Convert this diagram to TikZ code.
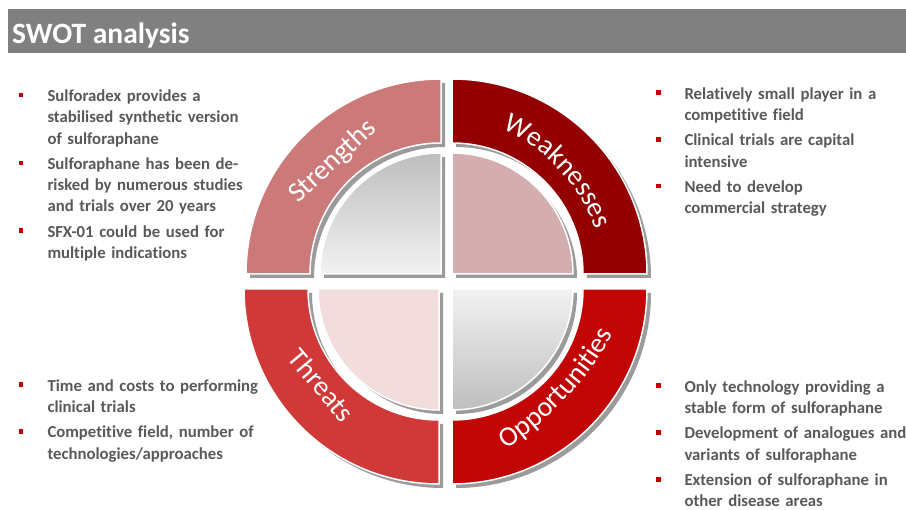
\documentclass[tikz,border=0pt]{standalone}
\usepackage{fontspec}
\setmainfont{Carlito}[Ligatures=NoCommon]
\usetikzlibrary{decorations.text}

\definecolor{titlegray}{RGB}{128,128,128}
\definecolor{bodygray}{RGB}{89,89,89}
\definecolor{bulletred}{RGB}{192,0,0}
\definecolor{shadowgray}{RGB}{155,155,155}
\definecolor{strengthband}{RGB}{204,121,121}
\definecolor{weakband}{RGB}{148,0,0}
\definecolor{threatband}{RGB}{209,56,56}
\definecolor{opportband}{RGB}{194,6,6}
\definecolor{weakdisk}{RGB}{212,174,174}
\definecolor{threatdisk}{RGB}{242,221,220}
\definecolor{diskdark}{RGB}{190,190,190}
\definecolor{disklight}{RGB}{242,242,242}

\newcommand\bodyfont{\fontsize{16.75}{21.3}\selectfont\bfseries}
\newcommand\labelfont{\fontsize{28}{28}\selectfont}
\newcommand\titlefont{\fontsize{29.5}{29.5}\selectfont\bfseries}

% One quarter of the wheel: a ring sector and an inner quarter disc,
% each with a grey drop shadow.
% #1 corner, #2 start angle, #3 ring colour, #4 disc fill options
\newcommand\swotquarter[4]{%
  \begin{scope}[shift={#1}]
    \fill[shadowgray, shift={(4,-4)}]
      (#2:195) arc[start angle=#2, delta angle=90, radius=195]
      -- ({#2+90}:131) arc[start angle={#2+90}, delta angle=-90, radius=131] -- cycle;
    \path[fill=#3, draw=white, line width=1.5]
      (#2:195) arc[start angle=#2, delta angle=90, radius=195]
      -- ({#2+90}:131) arc[start angle={#2+90}, delta angle=-90, radius=131] -- cycle;
    \fill[shadowgray, shift={(4,-4)}]
      (0,0) -- (#2:121) arc[start angle=#2, delta angle=90, radius=121] -- cycle;
    \path[#4, draw=white, line width=1.5]
      (0,0) -- (#2:121) arc[start angle=#2, delta angle=90, radius=121] -- cycle;
  \end{scope}}

\begin{document}
\begin{tikzpicture}[x=1pt, y=1pt,
  bulletsq/.style={fill=bulletred, minimum size=4.7pt, inner sep=0pt, outer sep=0pt},
  itemtext/.style={anchor=base west, inner sep=0pt, text width=250pt, align=left,
                   font=\bodyfont, text=bodygray},
  quadlabel/.style={font=\labelfont, text=white, inner sep=0pt},
  arclabel/.style={decorate, decoration={text along path, text align=center,
                   text color=white, text={|\labelfont|#1}}}]

\useasboundingbox (0,0) rectangle (906,-510);
\fill[white] (0,0) rectangle (906,-510);

% title bar
\fill[titlegray] (8,-9) rectangle (906,-53);
\node[anchor=base west, inner sep=0pt, font=\titlefont, text=white] (title) at (12,-44) {SWOT analysis};

% the wheel
\swotquarter{(441,-274)}{90}{strengthband}{top color=diskdark, bottom color=disklight}
\swotquarter{(452,-274)}{0}{weakband}{fill=weakdisk}
\swotquarter{(439,-289)}{180}{threatband}{fill=threatdisk}
\swotquarter{(452,-289)}{270}{opportband}{top color=disklight, bottom color=diskdark}

% quadrant titles
\node[quadlabel, rotate=43] (strengths) at (332.7,-161.7) {Strengths};
\node[quadlabel, rotate=-50] (threats) at (321.7,-385.3) {Threats};
\path[arclabel=Weaknesses] (427.6,-292.7) ++(88:180) arc[start angle=88, end angle=-2, radius=180];
\path[arclabel=Opportunities] (320,-168.3) ++(-73:337) arc[start angle=-73, end angle=-13, radius=337];

% strengths
\node[bulletsq] (sb1) at (21,-95) {};
\node[itemtext] (s1) at (47.3,-101.5) {Sulforadex provides a\\stabilised synthetic version\\of sulforaphane};
\node[bulletsq] (sb2) at (21,-162.9) {};
\node[itemtext] (s2) at (47.3,-169.4) {Sulforaphane has been de-\\risked by numerous studies\\and trials over 20 years};
\node[bulletsq] (sb3) at (21,-230.8) {};
\node[itemtext] (s3) at (47.3,-237.3) {SFX-01 could be used for\\multiple indications};

% weaknesses
\node[bulletsq] (wb1) at (658.3,-92.8) {};
\node[itemtext] (w1) at (684.3,-99.3) {Relatively small player in a\\competitive field};
\node[bulletsq] (wb2) at (658.3,-139.4) {};
\node[itemtext] (w2) at (684.3,-145.9) {Clinical trials are capital\\intensive};
\node[bulletsq] (wb3) at (658.3,-186) {};
\node[itemtext] (w3) at (684.3,-192.5) {Need to develop\\commercial strategy};

% threats
\node[bulletsq] (tb1) at (21,-384.8) {};
\node[itemtext] (t1) at (47.3,-391.3) {Time and costs to performing\\clinical trials};
\node[bulletsq] (tb2) at (21,-431.5) {};
\node[itemtext] (t2) at (47.3,-438) {Competitive field, number of\\technologies/approaches};

% opportunities
\node[bulletsq] (ob1) at (658.3,-385.8) {};
\node[itemtext] (o1) at (684.3,-392.3) {Only technology providing a\\stable form of sulforaphane};
\node[bulletsq] (ob2) at (658.3,-432.5) {};
\node[itemtext] (o2) at (684.3,-439) {Development of analogues and\\variants of sulforaphane};
\node[bulletsq] (ob3) at (658.3,-479.2) {};
\node[itemtext] (o3) at (684.3,-485.7) {Extension of sulforaphane in\\other disease areas};

\end{tikzpicture}
\end{document}
